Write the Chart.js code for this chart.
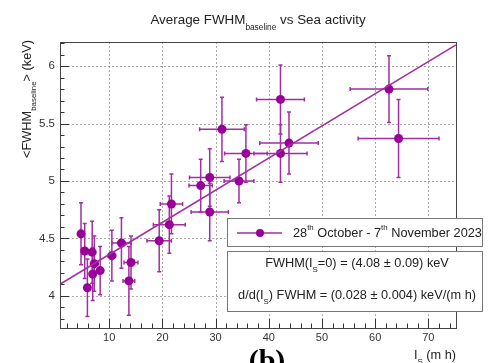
<!DOCTYPE html>
<html>
<head>
<meta charset="utf-8">
<script src="https://cdn.jsdelivr.net/npm/chart.js@4.4.1/dist/chart.umd.min.js"></script>
<style>
  html, body { margin: 0; padding: 0; background: #fff; }
  #wrap { width: 489px; height: 363px; }
</style>
</head>
<body>
<div id="wrap"><canvas id="chart" width="489" height="363"></canvas></div>
<script>
// sea activity I_S (m h) and mean FWHM baseline (keV)
const seaActivity = [4.7, 5.4, 6.8, 7.2, 6.9, 8.3, 5.9, 10.5, 12.3, 14.1, 13.7, 19.4, 21.3, 21.7, 27.2, 28.9, 28.9, 31.2, 34.4, 35.7, 42.2, 42.2, 43.8, 62.6, 64.4];
const fwhmMean = [4.54, 4.39, 4.38, 4.28, 4.19, 4.22, 4.07, 4.35, 4.46, 4.29, 4.13, 4.48, 4.62, 4.80, 4.96, 5.03, 4.73, 5.45, 5.00, 5.24, 5.71, 5.24, 5.33, 5.80, 5.37];
const seaErr = [0.5, 0.6, 0.6, 0.7, 0.5, 0.6, 0.5, 0.7, 1.8, 1.3, 1.1, 2.3, 3.0, 2.1, 2.2, 3.8, 3.5, 4.2, 2.8, 4.0, 4.5, 5.0, 5.5, 7.3, 7.6];
const fwhmErr = [0.27, 0.24, 0.27, 0.24, 0.23, 0.21, 0.25, 0.22, 0.22, 0.23, 0.30, 0.27, 0.25, 0.26, 0.23, 0.25, 0.25, 0.28, 0.19, 0.25, 0.30, 0.25, 0.27, 0.29, 0.34];

const fitIntercept = 4.08;
const fitSlope = 0.028;

const xRange = [0.75, 75.2];
const yRange = [3.72, 6.21];
const xTicks = [10, 20, 30, 40, 50, 60, 70];
const yTicks = [4, 4.5, 5, 5.5, 6];

const PURPLE = "#990099";
const LINE = "#a030a0";
const FONT = "'Liberation Sans', Arial, sans-serif";

// draw text made of pieces, some of them sub- or superscripts
function richWidth(ctx, parts, size) {
  let w = 0;
  parts.forEach(p => {
    ctx.font = (p.sub || p.sup ? size * 0.62 : size) + "px " + FONT;
    w += ctx.measureText(p.t).width;
  });
  return w;
}
function richText(ctx, parts, x, y, size, align) {
  const w = richWidth(ctx, parts, size);
  let cx = align === "center" ? x - w / 2 : align === "right" ? x - w : x;
  ctx.textBaseline = "middle";
  ctx.textAlign = "left";
  parts.forEach(p => {
    const s = p.sub || p.sup ? size * 0.62 : size;
    ctx.font = s + "px " + FONT;
    const dy = p.sub ? size * 0.55 : p.sup ? -size * 0.38 : 0;
    ctx.fillText(p.t, cx, y + dy);
    cx += ctx.measureText(p.t).width;
  });
}

const frame = {
  id: "frame",
  beforeDatasetsDraw(chart) {
    const { ctx, chartArea: a, scales: { x, y } } = chart;
    ctx.save();
    // dotted grid
    ctx.strokeStyle = "#aaa";
    ctx.lineWidth = 1;
    ctx.setLineDash([2, 2]);
    xTicks.forEach(v => {
      const px = Math.round(x.getPixelForValue(v)) + 0.5;
      ctx.beginPath(); ctx.moveTo(px, a.top); ctx.lineTo(px, a.bottom); ctx.stroke();
    });
    yTicks.forEach(v => {
      const py = Math.round(y.getPixelForValue(v)) + 0.5;
      ctx.beginPath(); ctx.moveTo(a.left, py); ctx.lineTo(a.right, py); ctx.stroke();
    });
    ctx.setLineDash([]);
    // inward ticks
    ctx.strokeStyle = "#333";
    for (let v = 2; v <= 74; v += 2) {
      const px = Math.round(x.getPixelForValue(v)) + 0.5;
      const len = v % 10 === 0 ? 9 : 4.5;
      ctx.beginPath(); ctx.moveTo(px, a.bottom); ctx.lineTo(px, a.bottom - len); ctx.stroke();
    }
    for (let i = 38; i <= 62; i++) {
      const v = i / 10;
      const py = Math.round(y.getPixelForValue(v)) + 0.5;
      const len = i % 5 === 0 ? 9 : 4.5;
      ctx.beginPath(); ctx.moveTo(a.left, py); ctx.lineTo(a.left + len, py); ctx.stroke();
    }
    // error bars
    ctx.save();
    ctx.beginPath(); ctx.rect(a.left, a.top, a.right - a.left, a.bottom - a.top); ctx.clip();
    ctx.strokeStyle = LINE;
    ctx.lineWidth = 1.5;
    seaActivity.forEach((sx, i) => {
      const px = x.getPixelForValue(sx);
      const py = y.getPixelForValue(fwhmMean[i]);
      const x0 = x.getPixelForValue(sx - seaErr[i]);
      const x1 = x.getPixelForValue(sx + seaErr[i]);
      const y0 = y.getPixelForValue(fwhmMean[i] - fwhmErr[i]);
      const y1 = y.getPixelForValue(fwhmMean[i] + fwhmErr[i]);
      ctx.beginPath();
      ctx.moveTo(x0, py); ctx.lineTo(x1, py);
      ctx.moveTo(px, y0); ctx.lineTo(px, y1);
      ctx.moveTo(x0, py - 2); ctx.lineTo(x0, py + 2);
      ctx.moveTo(x1, py - 2); ctx.lineTo(x1, py + 2);
      ctx.moveTo(px - 2, y0); ctx.lineTo(px + 2, y0);
      ctx.moveTo(px - 2, y1); ctx.lineTo(px + 2, y1);
      ctx.stroke();
    });
    ctx.restore();
    ctx.restore();
  },
  afterDatasetsDraw(chart) {
    const { ctx, chartArea: a } = chart;
    ctx.save();
    // axis box
    ctx.strokeStyle = "#444";
    ctx.lineWidth = 1;
    ctx.strokeRect(a.left + 0.5, a.top + 0.5, a.right - a.left, a.bottom - a.top);

    // legend boxes
    ctx.fillStyle = "#fff";
    ctx.strokeStyle = "#777";
    ctx.fillRect(227, 218, 255, 28);
    ctx.strokeRect(227.5, 218.5, 255, 28);
    ctx.fillRect(227, 251, 255, 60);
    ctx.strokeRect(227.5, 251.5, 255, 60);

    ctx.strokeStyle = LINE;
    ctx.lineWidth = 1.5;
    ctx.beginPath(); ctx.moveTo(237, 233); ctx.lineTo(282, 233); ctx.stroke();
    ctx.fillStyle = PURPLE;
    ctx.beginPath(); ctx.arc(260, 233, 4, 0, Math.PI * 2); ctx.fill();

    ctx.fillStyle = "#222";
    richText(ctx, [{ t: "28" }, { t: "th", sup: true }, { t: " October - 7" }, { t: "th", sup: true }, { t: " November 2023" }], 293, 233, 12.75, "left");
    richText(ctx, [{ t: "FWHM(I" }, { t: "S", sub: true }, { t: "=0) = (4.08 \u00b1 0.09) keV" }], 357, 263, 12.75, "center");
    richText(ctx, [{ t: "d/d(I" }, { t: "S", sub: true }, { t: ") FWHM = (0.028 \u00b1 0.004) keV/(m h)" }], 357, 295, 12.75, "center");

    // titles
    richText(ctx, [{ t: "Average FWHM" }, { t: "baseline", sub: true }, { t: " vs Sea activity" }], 258, 20, 13.4, "center");
    richText(ctx, [{ t: "I" }, { t: "S", sub: true }, { t: " (m h)" }], 456, 355, 12.75, "right");
    ctx.save();
    ctx.translate(27, 40);
    ctx.rotate(-Math.PI / 2);
    richText(ctx, [{ t: "<FWHM" }, { t: "baseline", sub: true }, { t: "> (keV)" }], 0, 0, 12.75, "right");
    ctx.restore();

    ctx.fillStyle = "#000";
    ctx.font = "bold 30px 'Liberation Serif', serif";
    ctx.textAlign = "center";
    ctx.textBaseline = "alphabetic";
    ctx.fillText("(b)", 267, 370);
    ctx.restore();
  }
};

const fitLine = xRange.map(v => ({ x: v, y: fitIntercept + fitSlope * v }));

new Chart(document.getElementById("chart"), {
  type: "scatter",
  data: {
    datasets: [
      {
        type: "line",
        data: fitLine,
        borderColor: LINE,
        borderWidth: 1.5,
        pointRadius: 0,
        fill: false
      },
      {
        data: seaActivity.map((v, i) => ({ x: v, y: fwhmMean[i] })),
        backgroundColor: PURPLE,
        borderColor: PURPLE,
        pointRadius: 4.5,
        pointBorderWidth: 0
      }
    ]
  },
  options: {
    responsive: false,
    devicePixelRatio: 1,
    animation: false,
    layout: { padding: { top: 42, right: 33, left: 0, bottom: 0 } },
    plugins: { legend: { display: false }, tooltip: { enabled: false } },
    scales: {
      x: {
        type: "linear",
        min: xRange[0],
        max: xRange[1],
        afterBuildTicks: s => { s.ticks = xTicks.map(v => ({ value: v })); },
        afterFit: s => { s.height = 35; },
        grid: { display: false, drawTicks: false },
        border: { display: false },
        ticks: { color: "#333", padding: 3, maxRotation: 0, font: { family: FONT, size: 11 }, callback: v => String(v) }
      },
      y: {
        type: "linear",
        min: yRange[0],
        max: yRange[1],
        afterBuildTicks: s => { s.ticks = yTicks.map(v => ({ value: v })); },
        afterFit: s => { s.width = 60; },
        grid: { display: false, drawTicks: false },
        border: { display: false },
        ticks: { color: "#333", padding: 5, font: { family: FONT, size: 11.5 }, callback: v => String(v) }
      }
    }
  },
  plugins: [frame]
});
</script>
</body>
</html>
